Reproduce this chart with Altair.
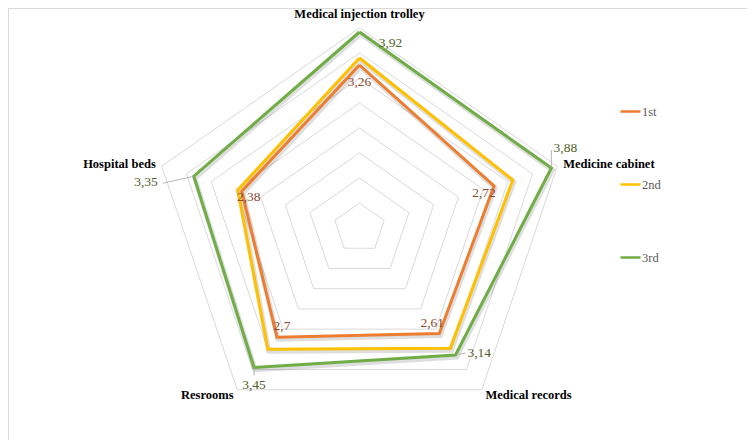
import altair as alt
import pandas as pd

# ---------------- data ----------------
categories = ["Medical injection trolley", "Medicine cabinet", "Medical records", "Resrooms", "Hospital beds"]
series_names = ["1st", "2nd", "3rd"]
values_1st = [3.26, 2.72, 2.61, 2.70, 2.38]
values_2nd = [3.40, 3.10, 2.97, 3.00, 2.46]
values_3rd = [3.92, 3.88, 3.14, 3.45, 3.35]
grid_levels = [0.5, 1.0, 1.5, 2.0, 2.5, 3.0, 3.5, 4.0]
labelled_series = ["1st", "3rd"]

# ---------------- style ----------------
series_colors = ["#ED7D31", "#FFC000", "#70AD47"]
label_colors = {"1st": "#8C4A2F", "3rd": "#4F6228"}
W, H = 739, 432
xs = alt.Scale(domain=[-6.7596, 7.4519], nice=False, zero=False)
ys = alt.Scale(domain=[-4.24, 4.4], nice=False, zero=False)
SERIF = "Liberation Serif"

# per-label pixel offsets (dx, dy, align) and leader lines (dx, dy)
label_offsets = {
    ("1st", 0): (0, 17, "center"), ("1st", 1): (-10, 7, "center"), ("1st", 2): (-7, -11, "center"),
    ("1st", 3): (5, -11, "center"), ("1st", 4): (7, 6, "center"),
    ("3rd", 0): (31, 11, "center"), ("3rd", 1): (14, -20, "center"), ("3rd", 2): (12, -2, "left"),
    ("3rd", 3): (0, 17, "center"), ("3rd", 4): (-36, 6, "right"),
}
leaders = {("3rd", 1): (0, -18), ("3rd", 2): (10, -2), ("3rd", 3): (0, 8), ("3rd", 4): (-31, 7)}

# ---------------- tables ----------------
all_vals = {"1st": values_1st, "2nd": values_2nd, "3rd": values_3rd}
rows = []
for s in series_names:
    for i in range(len(categories) + 1):
        v = all_vals[s][i % len(categories)]
        rows.append({"series": s, "idx": i, "category": categories[i % len(categories)],
                     "value": v, "lab": f"{v:g}".replace(".", ",")})
df = pd.DataFrame(rows)

grid = pd.DataFrame([{"level": g, "idx": i, "value": g}
                     for g in grid_levels for i in range(len(categories) + 1)])
cats = pd.DataFrame({"category": categories, "idx": list(range(len(categories))),
                     "value": [4.12] * len(categories)})


def polar(ch):
    return ch.transform_calculate(ang="PI/2 - 2*PI*datum.idx/5").transform_calculate(
        px="datum.value*cos(datum.ang)", py="datum.value*sin(datum.ang)")


X = alt.X("px:Q", scale=xs, axis=None)
Y = alt.Y("py:Q", scale=ys, axis=None)

layers = []

# frame (top and left edges)
layers.append(alt.Chart(cats).mark_rule(color="#d9d9d9", strokeWidth=1).encode(
    x=alt.value(0), x2=alt.value(W), y=alt.value(0)))
layers.append(alt.Chart(cats).mark_rule(color="#d9d9d9", strokeWidth=1).encode(
    x=alt.value(0), y=alt.value(0), y2=alt.value(H)))

# grid rings
layers.append(polar(alt.Chart(grid)).mark_line(color="#d9d9d9", strokeWidth=1).encode(
    x=X, y=Y, detail="level:N", order="idx:Q"))

# shadows
layers.append(polar(alt.Chart(df)).mark_line(color="#000000", opacity=0.13, strokeWidth=5,
                                             xOffset=1, yOffset=2).encode(
    x=X, y=Y, detail="series:N", order="idx:Q"))

# series lines
layers.append(polar(alt.Chart(df)).mark_line(strokeWidth=3, strokeJoin="miter").encode(
    x=X, y=Y, order="idx:Q",
    color=alt.Color("series:N", scale=alt.Scale(domain=series_names, range=series_colors),
                    legend=alt.Legend(title=None, orient="none", legendX=611, legendY=92,
                                      symbolType="stroke", symbolSize=400, symbolStrokeWidth=2.5,
                                      labelFont=SERIF, labelFontSize=12.5, labelColor="#595959",
                                      rowPadding=55, labelOffset=0, padding=0))))

# leader lines
for (s, i), (dx, dy) in leaders.items():
    layers.append(polar(alt.Chart(df)).transform_filter(
        f"datum.series == '{s}' && datum.idx == {i}").mark_rule(
        color="#a6a6a6", strokeWidth=0.8, x2Offset=dx, y2Offset=dy).encode(
        x=X, y=Y, x2="px:Q", y2="py:Q"))

# data labels
for (s, i), (dx, dy, al) in label_offsets.items():
    layers.append(polar(alt.Chart(df)).transform_filter(
        f"datum.series == '{s}' && datum.idx == {i}").mark_text(
        font=SERIF, fontSize=13.5, color=label_colors[s], dx=dx, dy=dy, align=al,
        baseline="middle").encode(x=X, y=Y, text="lab:N"))

# category labels
for al, idxs, dy in [("center", [0], -8), ("left", [1, 2], 0), ("right", [3, 4], 0)]:
    cond = " || ".join(f"datum.idx == {k}" for k in idxs)
    layers.append(polar(alt.Chart(cats)).transform_filter(cond).mark_text(
        font=SERIF, fontSize=12.5, fontWeight="bold", color="#000000", align=al,
        baseline="middle", dy=dy).encode(x=X, y=Y, text="category:N"))

chart = alt.layer(*layers).properties(
    width=W, height=H, padding=0, autosize="none", background="white"
).configure_view(stroke=None)

chart.save("out.html", embed_options={"renderer": "svg", "actions": False})
